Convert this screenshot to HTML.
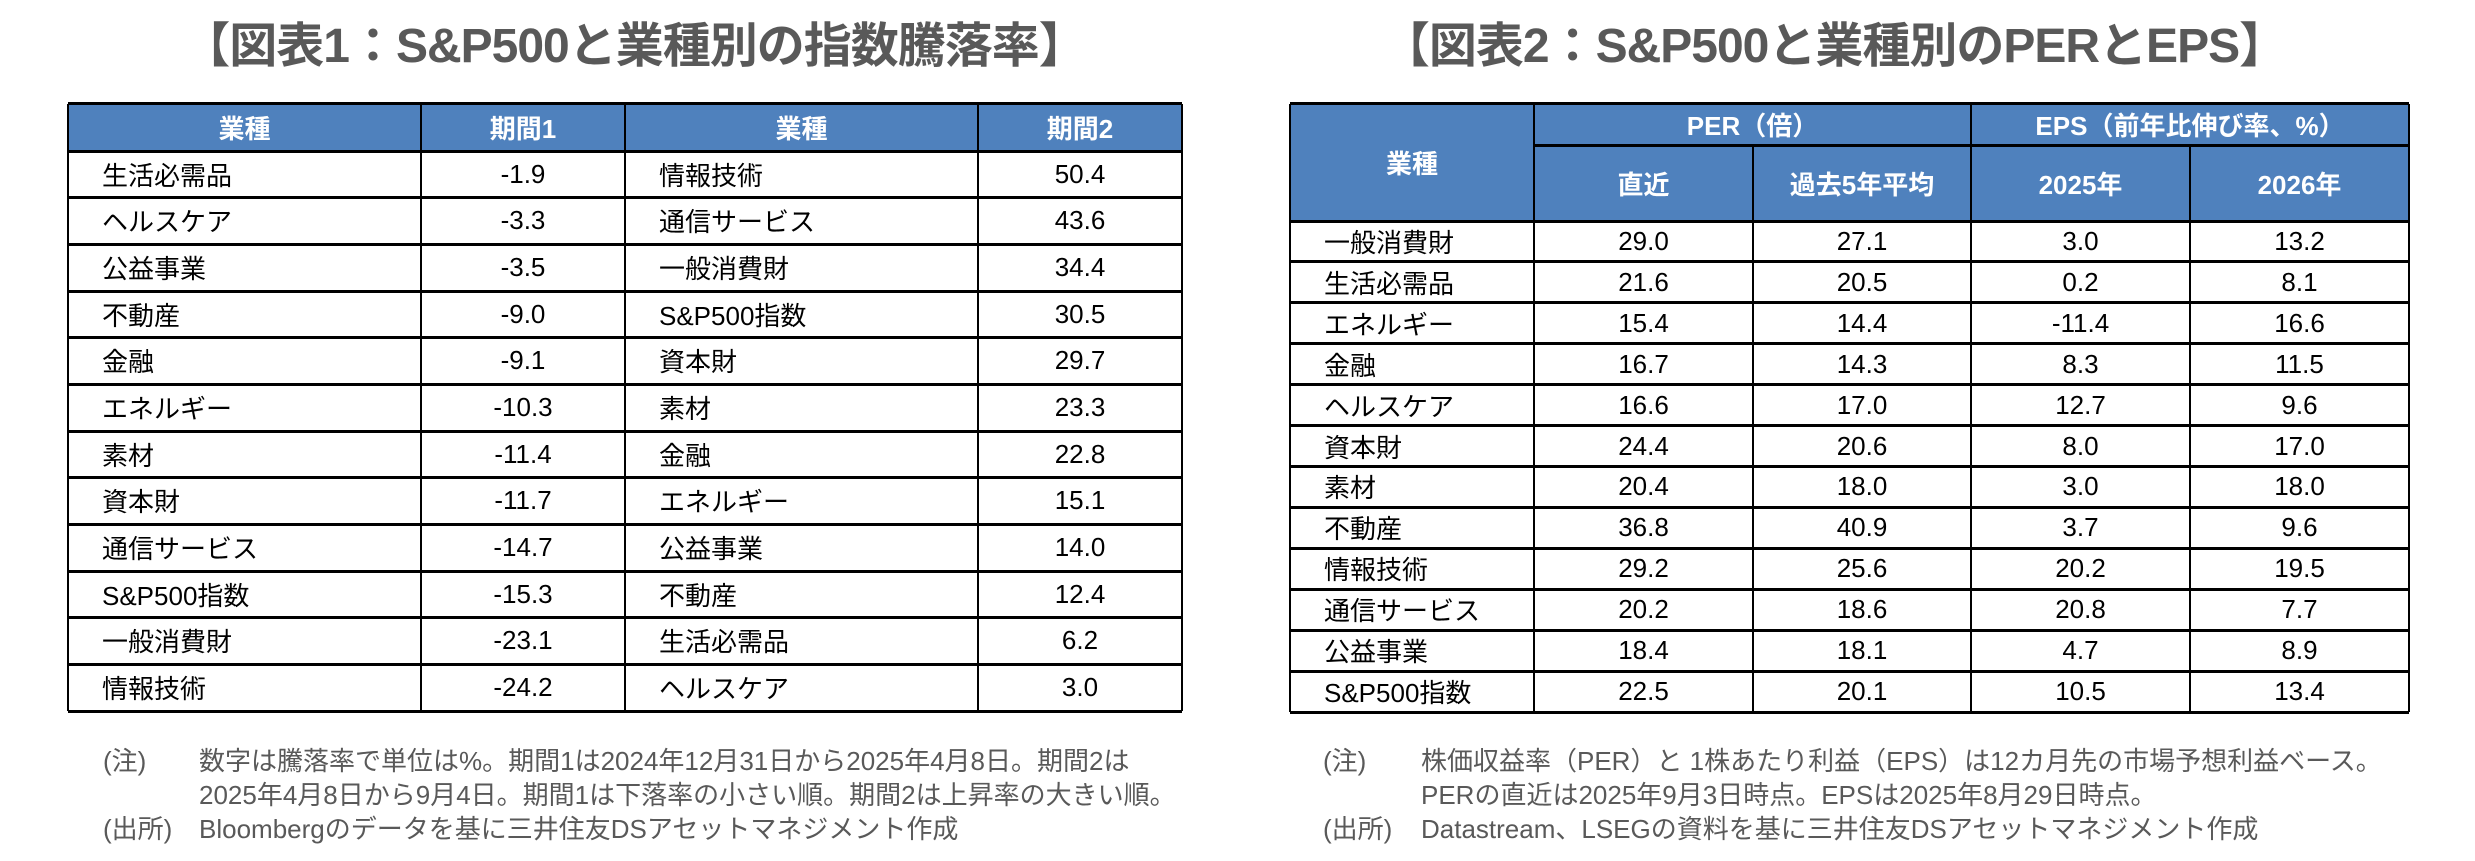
<!DOCTYPE html>
<html><head><meta charset="utf-8">
<style>
*{margin:0;padding:0;box-sizing:border-box}
body{width:2475px;height:861px;background:#fff;position:relative;overflow:hidden;font-family:"Liberation Sans","Noto Sans CJK JP",sans-serif}
.t{position:absolute;white-space:nowrap}
.title{font-size:48px;font-weight:bold;color:#595959;top:20px;height:54px;line-height:54px;text-align:center;letter-spacing:-1px}
.cell{position:absolute;display:flex;align-items:center;font-size:26px;color:#000;white-space:nowrap}
.hd{background:#4F81BD;color:#fff;font-weight:bold;justify-content:center}
.note{font-size:26px;color:#595959;line-height:34px}
.ln{position:absolute;background:#000}
</style></head><body>
<div class="t title" style="left:134px;width:1000px">【図表1：S&amp;P500と業種別の指数騰落率】</div>
<div class="t title" style="left:1334px;width:1000px">【図表2：S&amp;P500と業種別のPERとEPS】</div>
<div id="t1"></div>
<div id="t2"></div>

<div class="t note" style="left:103px;top:744px">(注)</div>
<div class="t note" style="left:199px;top:744px">数字は騰落率で単位は%。期間1は2024年12月31日から2025年4月8日。期間2は<br>2025年4月8日から9月4日。期間1は下落率の小さい順。期間2は上昇率の大きい順。</div>
<div class="t note" style="left:103px;top:812px">(出所)</div>
<div class="t note" style="left:199px;top:812px">Bloombergのデータを基に三井住友DSアセットマネジメント作成</div>

<div class="t note" style="left:1323px;top:744px">(注)</div>
<div class="t note" style="left:1421px;top:744px">株価収益率（PER）と 1株あたり利益（EPS）は12カ月先の市場予想利益ベース。<br>PERの直近は2025年9月3日時点。EPSは2025年8月29日時点。</div>
<div class="t note" style="left:1323px;top:812px">(出所)</div>
<div class="t note" style="left:1421px;top:812px">Datastream、LSEGの資料を基に三井住友DSアセットマネジメント作成</div>

<script>
const t1Sectors1=["生活必需品","ヘルスケア","公益事業","不動産","金融","エネルギー","素材","資本財","通信サービス","S&P500指数","一般消費財","情報技術"];
const t1Period1=["-1.9","-3.3","-3.5","-9.0","-9.1","-10.3","-11.4","-11.7","-14.7","-15.3","-23.1","-24.2"];
const t1Sectors2=["情報技術","通信サービス","一般消費財","S&P500指数","資本財","素材","金融","エネルギー","公益事業","不動産","生活必需品","ヘルスケア"];
const t1Period2=["50.4","43.6","34.4","30.5","29.7","23.3","22.8","15.1","14.0","12.4","6.2","3.0"];
const t2Sectors=["一般消費財","生活必需品","エネルギー","金融","ヘルスケア","資本財","素材","不動産","情報技術","通信サービス","公益事業","S&P500指数"];
const t2PerNow=["29.0","21.6","15.4","16.7","16.6","24.4","20.4","36.8","29.2","20.2","18.4","22.5"];
const t2PerAvg=["27.1","20.5","14.4","14.3","17.0","20.6","18.0","40.9","25.6","18.6","18.1","20.1"];
const t2Eps25=["3.0","0.2","-11.4","8.3","12.7","8.0","3.0","3.7","20.2","20.8","4.7","10.5"];
const t2Eps26=["13.2","8.1","16.6","11.5","9.6","17.0","18.0","9.6","19.5","7.7","8.9","13.4"];

function cell(parent,x,y,w,h,txt,cls,align,name){
  const d=document.createElement('div');
  d.className='cell '+(cls||'');
  d.style.left=x+'px';d.style.top=y+'px';d.style.width=w+'px';d.style.height=h+'px';
  if(align==='left'){d.style.paddingLeft='34px';}else{d.style.justifyContent='center';}
  d.textContent=txt;
  
  
  parent.appendChild(d);return d;
}
function line(parent,x,y,w,h){
  const d=document.createElement('div');d.className='ln';
  d.style.left=x+'px';d.style.top=y+'px';d.style.width=w+'px';d.style.height=h+'px';
  
  
  parent.appendChild(d);
}
(function(){
  const p=document.getElementById('t1');
  const cols=[68,421,625,978,1182];
  const top=104,hb=151,rh=(711-151)/12;
  const heads=["業種","期間1","業種","期間2"];
  for(let c=0;c<4;c++) cell(p,cols[c],top,cols[c+1]-cols[c],hb-top,heads[c],'hd',null,'header-'+c);
  const data=[t1Sectors1,t1Period1,t1Sectors2,t1Period2];
  for(let r=0;r<12;r++){
    for(let c=0;c<4;c++){
      const y=hb+r*rh;
      cell(p,cols[c],y,cols[c+1]-cols[c],rh,data[c][r],'',(c%2===0)?'left':null,(c%2===0?'sector-':'value-')+r+'-'+c);
    }
  }
  line(p,68,top-2,1114,3);
  for(let r=0;r<=12;r++) line(p,68,hb+r*rh-1.5,1114,3);
  cols.forEach(x=>line(p,x-1,top,2,711-top));
})();
(function(){
  const p=document.getElementById('t2');
  const cols=[1290,1534,1753,1971,2190,2409];
  const top=104,mid=145,hb=221,rh=(712-221)/12;
  cell(p,cols[0],top,cols[1]-cols[0],hb-top,"業種",'hd',null,'header-sector');
  cell(p,cols[1],top,cols[3]-cols[1],mid-top,"PER（倍）",'hd',null,'header-per');
  cell(p,cols[3],top,cols[5]-cols[3],mid-top,"EPS（前年比伸び率、%）",'hd',null,'header-eps');
  const sub=["直近","過去5年平均","2025年","2026年"];
  for(let c=0;c<4;c++) cell(p,cols[c+1],mid,cols[c+2]-cols[c+1],hb-mid,sub[c],'hd',null,'subheader-'+c);
  const data=[t2Sectors,t2PerNow,t2PerAvg,t2Eps25,t2Eps26];
  for(let r=0;r<12;r++){
    for(let c=0;c<5;c++){
      cell(p,cols[c],hb+r*rh,cols[c+1]-cols[c],rh,data[c][r],'',c===0?'left':null,(c===0?'sector2-':'value2-')+r+'-'+c);
    }
  }
  line(p,1290,top-2,1119,3);
  line(p,1534,mid-1.5,875,3);
  for(let r=0;r<=12;r++) line(p,1290,hb+r*rh-1.5,1119,3);
  line(p,1289,top,2,712-top);line(p,2408,top,2,712-top);
  line(p,1533,top,2,712-top);line(p,1970,top,2,712-top);
  line(p,1752,mid,2,712-mid);line(p,2189,mid,2,712-mid);
})();
</script>
</body></html>
